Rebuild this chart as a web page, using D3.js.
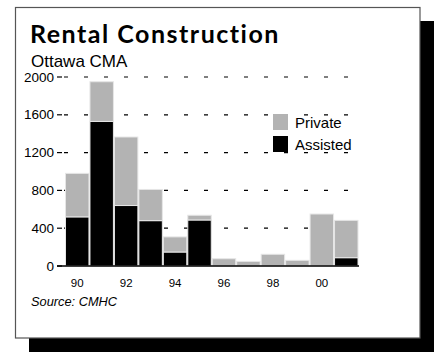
<!DOCTYPE html>
<html><head><meta charset="utf-8">
<script src="https://cdn.jsdelivr.net/npm/d3@7"></script>
<style>body{margin:0;background:#fff}svg{display:block}</style>
</head><body>
<svg id="c" width="434" height="352"></svg>
<script>
const years = ["90","91","92","93","94","95","96","97","98","99","00","01"];
const assisted = [520,1530,640,480,148,487,0,0,0,0,0,88];
const privateUnits = [460,420,725,330,160,50,77,49,124,60,550,395];
const yTicks = [0,400,800,1200,1600,2000];
const xLabels = ["90","92","94","96","98","00"];
const seriesNames = ["Private","Assisted"];
const colors = {Private:"#b3b3b3", Assisted:"#000"};

const svg = d3.select("#c");
// shadow
svg.append("rect").attr("x",29).attr("y",21).attr("width",405).attr("height",331).attr("fill","#000");
// box
svg.append("rect").attr("x",15.5).attr("y",7.5).attr("width",404.5).attr("height",330.5)
  .attr("fill","#fff").attr("stroke","#555").attr("stroke-width",1.2);

svg.append("text").attr("x",30).attr("y",43).text("Rental Construction")
  .attr("font-family","Lato").attr("font-weight","bold").attr("font-size",25)
  .attr("letter-spacing",1.5).attr("fill","#000");
svg.append("text").attr("x",31).attr("y",67).text("Ottawa CMA")
  .attr("font-family","Liberation Sans").attr("font-size",17).attr("fill","#000");

const x = d3.scaleBand().domain(years).range([65,358.5]).padding(0);
const y = d3.scaleLinear().domain([0,2000]).range([266,77]);

const data = years.map((yr,i)=>({year:yr, Assisted:assisted[i], Private:privateUnits[i]}));
const stack = d3.stack().keys(["Assisted","Private"])(data);

// grid
const g = svg.append("g");
yTicks.forEach(t=>{
  if(t>0){
    g.append("line").attr("x1",64).attr("x2",360).attr("y1",y(t)).attr("y2",y(t))
      .attr("stroke","#000").attr("stroke-width",1.2).attr("stroke-dasharray","4,16");
  }
  g.append("line").attr("x1",57).attr("x2",62).attr("y1",y(t)).attr("y2",y(t))
    .attr("stroke","#000").attr("stroke-width",1.2);
  g.append("text").attr("x",54).attr("y",y(t)+4.5).attr("text-anchor","end")
    .attr("font-family","Liberation Sans").attr("font-size",13.5).text(d3.format("d")(t));
});

// bars
stack.forEach(s=>{
  svg.append("g").selectAll("rect").data(s).join("rect")
    .attr("x",d=>x(d.data.year)+0.5).attr("width",x.bandwidth()-1)
    .attr("y",d=>y(d[1])).attr("height",d=>Math.max(0,y(d[0])-y(d[1])))
    .attr("fill",colors[s.key]).attr("stroke","#e6e6e6").attr("stroke-width",1)
    .attr("display",d=>d[1]-d[0]>0?null:"none");
});

// zero line
svg.append("line").attr("x1",57).attr("x2",359).attr("y1",y(0)).attr("y2",y(0))
  .attr("stroke","#000").attr("stroke-width",1.5);

// x labels
svg.append("g").selectAll("text").data(xLabels).join("text")
  .attr("x",d=>x(d)+x.bandwidth()/2).attr("y",287).attr("text-anchor","middle")
  .attr("font-family","Liberation Sans").attr("font-size",11.5).text(d=>d);

// legend
seriesNames.forEach((n,i)=>{
  svg.append("rect").attr("x",273).attr("y",114+i*22).attr("width",15).attr("height",16).attr("fill",colors[n]);
  svg.append("text").attr("x",295).attr("y",128+i*22).text(n)
    .attr("font-family","Liberation Sans").attr("font-size",15);
});

svg.append("text").attr("x",31).attr("y",306).text("Source: CMHC")
  .attr("font-family","Liberation Sans").attr("font-style","italic").attr("font-size",12.8);
</script>
</body></html>
